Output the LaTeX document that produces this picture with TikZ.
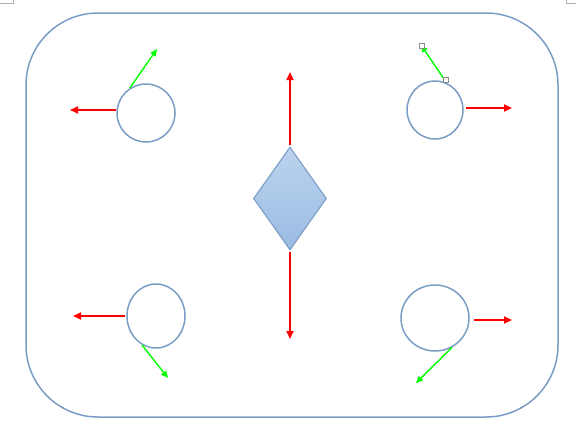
\documentclass[tikz,border=0pt]{standalone}
\usetikzlibrary{shapes.geometric,arrows.meta}
\definecolor{edgeblue}{HTML}{7A9DC6}
\definecolor{difftop}{HTML}{BCD3EF}
\definecolor{diffbot}{HTML}{9ABBE2}
\definecolor{handlegray}{HTML}{8C8C8C}
\tikzset{
  ring/.style={ellipse,draw=edgeblue,line width=1.5pt,inner sep=0pt},
  redarrow/.style={draw=red,line width=1.8pt,-{Triangle[length=8pt,width=7pt]}},
  greenarrow/.style={draw=green,line width=1.4pt,-{Triangle[length=7pt,width=6pt]}},
  handle/.style={draw=handlegray,fill=white,line width=0.6pt,minimum size=5.5pt,inner sep=0pt,rectangle},
  pagemark/.style={draw=handlegray!70,line width=0.6pt}
}
\begin{document}
\begin{tikzpicture}[x=1pt,y=-1pt]
\useasboundingbox (0,0) rectangle (576,437);
% page corner marks
\draw[pagemark] (0,3) -- (13,3) -- (13,0);
\draw[pagemark] (566,0) -- (566,3) -- (576,3);
% frame
\draw[edgeblue,line width=1.5pt,rounded corners=72pt] (26,13) rectangle (558,417);
% diamond
\node[diamond,draw=edgeblue,line width=1.1pt,minimum width=73pt,minimum height=103pt,inner sep=0pt,top color=difftop,bottom color=diffbot] (dia) at (290,198.5) {};
% circles
\node[ring,minimum width=58pt,minimum height=58pt] (tl) at (146,113) {};
\node[ring,minimum width=56pt,minimum height=58pt] (tr) at (435,110) {};
\node[ring,minimum width=58pt,minimum height=64pt] (bl) at (156,316) {};
\node[ring,minimum width=68pt,minimum height=66pt] (br) at (435,318) {};
% arrow end points
\coordinate (diaup) at (290,72);
\coordinate (diadown) at (290,339);
\coordinate (tlred) at (70,110);
\coordinate (tlgreen) at (157,49);
\coordinate (trred) at (512,108);
\coordinate (trgreen) at (421,45);
\coordinate (blred) at (73,316);
\coordinate (blgreen) at (168,378);
\coordinate (brred) at (512,320);
\coordinate (brgreen) at (416,383);
% red arrows
\draw[redarrow] (dia.north) ++(0,-1) -- (diaup);
\draw[redarrow] (dia.south) ++(0,1) -- (diadown);
\draw[redarrow] (tl.west |- tlred) -- (tlred);
\draw[redarrow] ([xshift=2pt]tr.east |- trred) -- (trred);
\draw[redarrow] ([xshift=-1pt]bl.west |- blred) -- (blred);
\draw[redarrow] ([xshift=4pt]br.east |- brred) -- (brred);
% green arrows
\draw[greenarrow] (tl.123) -- (tlgreen);
\draw[greenarrow] (tr.67) -- (trgreen);
\draw[greenarrow] (bl.244) -- (blgreen);
\draw[greenarrow] (br.300) -- (brgreen);
% selection handles
\node[handle] (h1) at (446,80) {};
\node[handle] (h2) at (422,46) {};
\end{tikzpicture}
\end{document}
